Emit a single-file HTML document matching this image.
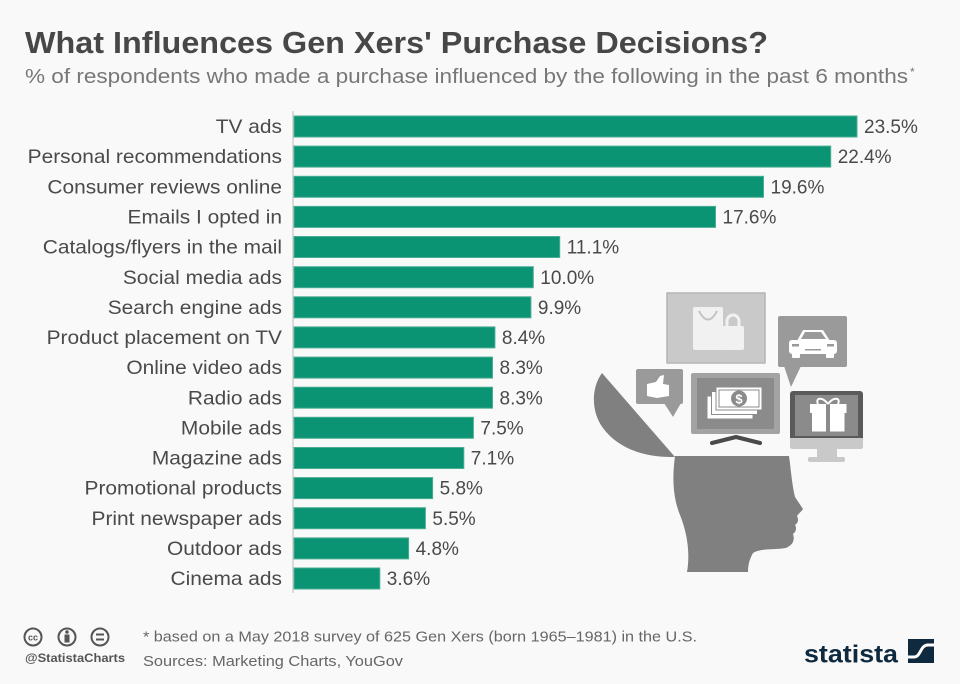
<!DOCTYPE html>
<html>
<head>
<meta charset="utf-8">
<style>
html,body{margin:0;padding:0;background:#f9f9f9;}
svg{display:block;}
text{font-family:"Liberation Sans",Arial,sans-serif;}
</style>
</head>
<body>
<svg width="960" height="684" viewBox="0 0 960 684" xmlns="http://www.w3.org/2000/svg">
<rect x="0" y="0" width="960" height="684" fill="#f9f9f9"/>

<!-- Title -->
<text x="25" y="53" font-size="31" font-weight="bold" fill="#474747" textLength="743" lengthAdjust="spacingAndGlyphs">What Influences Gen Xers' Purchase Decisions?</text>
<text x="25" y="83" font-size="20" fill="#777777" textLength="883" lengthAdjust="spacingAndGlyphs">% of respondents who made a purchase influenced by the following in the past 6 months</text>
<text x="910" y="76" font-size="12" fill="#777777">*</text>

<!-- Illustration -->
<g>
  <!-- lid -->
  <path d="M602,373 C591,388 591,412 603,428 C616,446 641,458 675,457 Z" fill="#808080"/>
  <!-- head -->
  <path d="M675,456 L789,456 C791,470 792,485 795,497 L803,509 C801,512 798,514 797,516 C799,520 798,523 795,525 C797,528 796,532 793,534 C795,540 793,545 786,548 C775,550 760,548 753,553 C749,560 748,566 748,572 L687,572 C690,555 688,535 680,515 C673,498 672,478 675,456 Z" fill="#808080"/>

  <!-- bag panel -->
  <rect x="667" y="293" width="98" height="70" fill="#c9c9c9" stroke="#b4b4b4" stroke-width="1.5"/>
  <rect x="693" y="307" width="30" height="43" rx="2" fill="#f1f1f1"/>
  <path d="M699,311 Q708,328 717,311" fill="none" stroke="#c4c4c4" stroke-width="2"/>
  <path d="M727,328 L727,321 A6,6 0 0 1 739,321 L739,328" fill="none" stroke="#f1f1f1" stroke-width="3"/>
  <rect x="722" y="326" width="22" height="24" rx="2" fill="#f1f1f1"/>
  <circle cx="708" cy="311" r="0" fill="#fff"/>

  <!-- car bubble -->
  <rect x="778" y="316" width="69" height="51" rx="2" fill="#9a9a9a"/>
  <polygon points="784,366 801,366 791,387" fill="#9a9a9a"/>
  <polygon points="797,341 803,330 823,330 830,341" fill="#ffffff"/>
  <polygon points="801,339 805,332 821,332 826,339" fill="#9a9a9a"/>
  <rect x="789" y="340" width="48" height="14" rx="3" fill="#ffffff"/>
  <rect x="792" y="352" width="8" height="6" rx="1" fill="#ffffff"/>
  <rect x="826" y="352" width="8" height="6" rx="1" fill="#ffffff"/>
  <rect x="792" y="344" width="7" height="2.5" fill="#9a9a9a"/>
  <rect x="827" y="344" width="7" height="2.5" fill="#9a9a9a"/>
  <rect x="805" y="349" width="16" height="1.5" fill="#9a9a9a"/>

  <!-- thumbs bubble -->
  <rect x="636" y="369" width="47" height="35" rx="2" fill="#9a9a9a"/>
  <polygon points="664,403 681,403 673,417" fill="#9a9a9a"/>
  <path d="M647,384 L656,382 L660,376 L664,375 L663,384 L669,385 L669,396 L657,398 L647,396 Z" fill="#ffffff"/>

  <!-- TV -->
  <rect x="691" y="373" width="89" height="61" rx="2" fill="#a3a3a3"/>
  <rect x="697" y="378" width="77" height="51" fill="#8b8b8b"/>
  <polyline points="712,443 736,437 760,443" fill="none" stroke="#4a4a4a" stroke-width="4" stroke-linecap="round" stroke-linejoin="round"/>
  <rect x="707" y="396" width="46" height="23" fill="#ffffff" stroke="#8b8b8b" stroke-width="1"/>
  <rect x="711.5" y="391.5" width="46" height="23" fill="#ffffff" stroke="#8b8b8b" stroke-width="1"/>
  <rect x="716" y="387" width="46" height="23" fill="#ffffff" stroke="#8b8b8b" stroke-width="1"/>
  <rect x="719" y="390" width="40" height="17" fill="#ffffff" stroke="#8b8b8b" stroke-width="1"/>
  <circle cx="739" cy="398.5" r="8" fill="#8b8b8b"/>
  <text x="739" y="403.5" font-size="13" font-weight="bold" fill="#ffffff" text-anchor="middle">$</text>

  <!-- computer -->
  <rect x="790" y="391" width="73" height="58" rx="3" fill="#5a5a5a"/>
  <rect x="795" y="395" width="63" height="41" fill="#8b8b8b"/>
  <path d="M790,438 L863,438 L863,446 Q863,449 860,449 L793,449 Q790,449 790,446 Z" fill="#c9c9c9"/>
  <rect x="817" y="449" width="20" height="9" fill="#c9c9c9"/>
  <rect x="808" y="457" width="37" height="5" rx="2" fill="#c9c9c9"/>
  <rect x="810" y="404" width="36.5" height="9" fill="#ffffff"/>
  <rect x="812" y="413" width="32.5" height="18.5" fill="#ffffff"/>
  <rect x="826" y="404" width="4" height="27.5" fill="#8b8b8b"/>
  <path d="M828,404 C822,396 815,398 818,404 M828,404 C834,396 841,398 838,404" fill="none" stroke="#ffffff" stroke-width="2"/>
</g>

<!-- Axis -->
<line x1="293" y1="111" x2="293" y2="593" stroke="#cfcfcf" stroke-width="1.5"/>

<!-- Bars -->
<g fill="#0b9473" stroke="#49ad93" stroke-width="1">
  <rect x="294" y="116" width="563" height="21"/>
  <rect x="294" y="146.1" width="536.7" height="21"/>
  <rect x="294" y="176.3" width="469.5" height="21"/>
  <rect x="294" y="206.4" width="421.5" height="21"/>
  <rect x="294" y="236.5" width="265.7" height="21"/>
  <rect x="294" y="266.7" width="239.3" height="21"/>
  <rect x="294" y="296.8" width="236.9" height="21"/>
  <rect x="294" y="326.9" width="200.9" height="21"/>
  <rect x="294" y="357.1" width="198.5" height="21"/>
  <rect x="294" y="387.2" width="198.5" height="21"/>
  <rect x="294" y="417.3" width="179.4" height="21"/>
  <rect x="294" y="447.5" width="169.8" height="21"/>
  <rect x="294" y="477.6" width="138.6" height="21"/>
  <rect x="294" y="507.7" width="131.4" height="21"/>
  <rect x="294" y="537.9" width="114.6" height="21"/>
  <rect x="294" y="568" width="85.8" height="21"/>
</g>

<!-- Category labels -->
<g transform="translate(282,0) scale(1.1,1)" font-size="19" fill="#4a4a4a" text-anchor="end">
  <text x="0" y="133.1">TV ads</text>
  <text x="0" y="163.2">Personal recommendations</text>
  <text x="0" y="193.4">Consumer reviews online</text>
  <text x="0" y="223.5">Emails I opted in</text>
  <text x="0" y="253.6">Catalogs/flyers in the mail</text>
  <text x="0" y="283.8">Social media ads</text>
  <text x="0" y="313.9">Search engine ads</text>
  <text x="0" y="344">Product placement on TV</text>
  <text x="0" y="374.2">Online video ads</text>
  <text x="0" y="404.3">Radio ads</text>
  <text x="0" y="434.4">Mobile ads</text>
  <text x="0" y="464.6">Magazine ads</text>
  <text x="0" y="494.7">Promotional products</text>
  <text x="0" y="524.8">Print newspaper ads</text>
  <text x="0" y="555">Outdoor ads</text>
  <text x="0" y="585.1">Cinema ads</text>
</g>

<!-- Value labels -->
<g font-size="19" fill="#4a4a4a">
  <text x="864" y="133.1">23.5%</text>
  <text x="837.7" y="163.2">22.4%</text>
  <text x="770.5" y="193.4">19.6%</text>
  <text x="722.5" y="223.5">17.6%</text>
  <text x="566.7" y="253.6">11.1%</text>
  <text x="540.3" y="283.8">10.0%</text>
  <text x="537.9" y="313.9">9.9%</text>
  <text x="501.9" y="344">8.4%</text>
  <text x="499.5" y="374.2">8.3%</text>
  <text x="499.5" y="404.3">8.3%</text>
  <text x="480.4" y="434.4">7.5%</text>
  <text x="470.8" y="464.6">7.1%</text>
  <text x="439.6" y="494.7">5.8%</text>
  <text x="432.4" y="524.8">5.5%</text>
  <text x="415.6" y="555">4.8%</text>
  <text x="386.8" y="585.1">3.6%</text>
</g>

<!-- Footer: CC icons -->
<g fill="none" stroke="#555555" stroke-width="2">
  <circle cx="33" cy="637" r="8.5"/>
  <circle cx="67" cy="637" r="8.5"/>
  <circle cx="100" cy="637" r="8.5"/>
</g>
<text x="33" y="640.5" font-size="9" font-weight="bold" fill="#555555" text-anchor="middle">cc</text>
<circle cx="67" cy="632" r="1.8" fill="#555555"/>
<rect x="64.5" y="634.5" width="5" height="8" fill="#555555"/>
<rect x="96" y="633.5" width="8" height="2" fill="#555555"/>
<rect x="96" y="638.5" width="8" height="2" fill="#555555"/>
<text x="25" y="662" font-size="12" font-weight="bold" fill="#555555" textLength="100" lengthAdjust="spacingAndGlyphs">@StatistaCharts</text>

<text x="143" y="641.5" font-size="14.5" fill="#666666" textLength="554" lengthAdjust="spacingAndGlyphs">* based on a May 2018 survey of 625 Gen Xers (born 1965–1981) in the U.S.</text>
<text x="143" y="666" font-size="14.5" fill="#666666" textLength="260" lengthAdjust="spacingAndGlyphs">Sources: Marketing Charts, YouGov</text>

<!-- Statista logo -->
<text x="804" y="662.5" font-size="25" font-weight="bold" fill="#0f2a3f" textLength="94" lengthAdjust="spacingAndGlyphs">statista</text>
<rect x="908" y="639" width="26" height="24" fill="#0f2a3f"/>
<path d="M908,657 L914,657 C921,657 920,645 928,645 L934,645" fill="none" stroke="#ffffff" stroke-width="3"/>
</svg>
</body>
</html>
